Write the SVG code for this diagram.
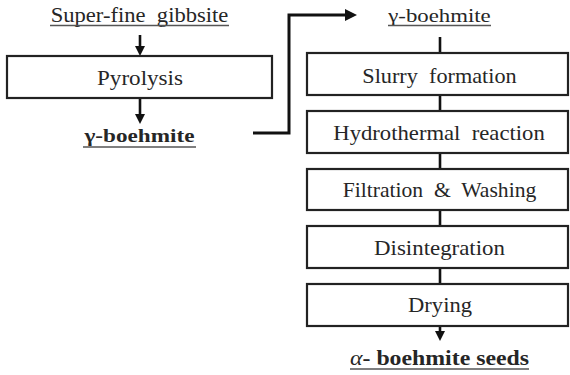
<svg xmlns="http://www.w3.org/2000/svg" width="570" height="375" viewBox="0 0 570 375">
<defs>
<marker id="ah" viewBox="0 0 10 10" refX="0" refY="5" markerWidth="10" markerHeight="10" markerUnits="userSpaceOnUse" orient="auto">
<path d="M0,0 L10,5 L0,10 z" fill="#111"/>
</marker>
<marker id="ahl" viewBox="0 0 10 10" refX="0" refY="5" markerWidth="12" markerHeight="12" markerUnits="userSpaceOnUse" orient="auto">
<path d="M0,0 L10,5 L0,10 z" fill="#111"/>
</marker>
</defs>
<rect width="570" height="375" fill="#fff"/>
<g id="connectors" fill="none" stroke="#111" stroke-width="2.6">
<path d="M140,35 V46" marker-end="url(#ah)"/>
<path d="M140,98 V114" marker-end="url(#ah)"/>
<path d="M253,133 H289 V15 H345" stroke-width="3" marker-end="url(#ahl)"/>
<path d="M440,37 V53"/>
<path d="M440,95 V111"/>
<path d="M440,153 V169"/>
<path d="M440,210 V226"/>
<path d="M440,268 V284"/>
<path d="M440,326 V331" marker-end="url(#ah)"/>
</g>
<g id="gibbsite">
<text font-family="Times New Roman" font-size="20" fill="#262626" text-anchor="middle" transform="translate(139.5,22) scale(1.13,1)" xml:space="preserve">Super-fine  gibbsite</text>
<line x1="50" y1="25.5" x2="229" y2="25.5" stroke="#555" stroke-width="1.3"/>
</g>
<g id="pyrolysis">
<rect x="7" y="56" width="265" height="42" fill="#fff" stroke="#222" stroke-width="2.2"/>
<text font-family="Times New Roman" font-size="21" fill="#262626" text-anchor="middle" transform="translate(140,85) scale(1.1,1)">Pyrolysis</text>
</g>
<g id="boehmite-left">
<text font-family="Times New Roman" font-size="19" font-weight="bold" fill="#262626" text-anchor="middle" transform="translate(139.5,142) scale(1.22,1)">γ-boehmite</text>
<line x1="83" y1="147" x2="196" y2="147" stroke="#555" stroke-width="1.3"/>
</g>
<g id="boehmite-right">
<text font-family="Times New Roman" font-size="19" fill="#262626" text-anchor="middle" transform="translate(439.5,22) scale(1.2,1)">γ-boehmite</text>
<line x1="388" y1="25.5" x2="491" y2="25.5" stroke="#555" stroke-width="1.3"/>
</g>
<g id="slurry">
<rect x="307" y="53" width="261" height="42" fill="#fff" stroke="#222" stroke-width="2.2"/>
<text font-family="Times New Roman" font-size="21" fill="#262626" text-anchor="middle" transform="translate(439.5,83) scale(1.06,1)" xml:space="preserve">Slurry  formation</text>
</g>
<g id="hydrothermal">
<rect x="307" y="111" width="261" height="42" fill="#fff" stroke="#222" stroke-width="2.2"/>
<text font-family="Times New Roman" font-size="21" fill="#262626" text-anchor="middle" transform="translate(439,140) scale(1.08,1)" xml:space="preserve">Hydrothermal  reaction</text>
</g>
<g id="filtration">
<rect x="307" y="169" width="261" height="41" fill="#fff" stroke="#222" stroke-width="2.2"/>
<text font-family="Times New Roman" font-size="21" fill="#262626" text-anchor="middle" transform="translate(439.5,197) scale(1.03,1)" xml:space="preserve">Filtration  &amp;  Washing</text>
</g>
<g id="disintegration">
<rect x="307" y="226" width="261" height="42" fill="#fff" stroke="#222" stroke-width="2.2"/>
<text font-family="Times New Roman" font-size="21" fill="#262626" text-anchor="middle" transform="translate(439.5,255) scale(1.09,1)">Disintegration</text>
</g>
<g id="drying">
<rect x="307" y="284" width="261" height="42" fill="#fff" stroke="#222" stroke-width="2.2"/>
<text font-family="Times New Roman" font-size="21" fill="#262626" text-anchor="middle" transform="translate(440,312) scale(1.075,1)">Drying</text>
</g>
<g id="alpha-seeds">
<text font-family="Times New Roman" font-size="20" fill="#262626" text-anchor="middle" transform="translate(439.5,365) scale(1.19,1)"><tspan font-style="italic">α</tspan><tspan font-weight="bold">- boehmite seeds</tspan></text>
<line x1="350" y1="369" x2="529" y2="369" stroke="#555" stroke-width="1.3"/>
</g>
</svg>
